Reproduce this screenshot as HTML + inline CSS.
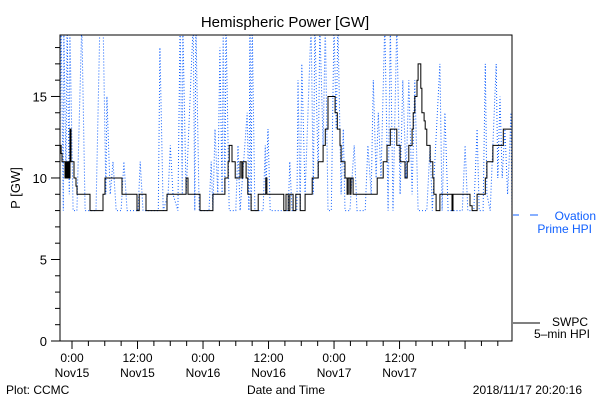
<!DOCTYPE html>
<html><head><meta charset="utf-8"><style>
body{margin:0;background:#fff;}
svg{display:block;font-family:"Liberation Sans",sans-serif;}
</style></head><body>
<svg id="chart" width="600" height="400">
<text x="285" y="27" font-size="15" text-anchor="middle">Hemispheric Power [GW]</text>
<text transform="translate(20,188) rotate(-90)" font-size="13" text-anchor="middle">P [GW]</text>
<text x="286" y="394" font-size="12" text-anchor="middle">Date and Time</text>
<text x="6" y="394" font-size="12">Plot: CCMC</text>
<text x="582" y="394" font-size="12" text-anchor="end">2018/11/17 20:20:16</text>
<g>
<line x1="513" y1="215" x2="519" y2="215" stroke="#1060ff" stroke-width="1"/>
<line x1="530" y1="215" x2="538" y2="215" stroke="#1060ff" stroke-width="1"/>
<text x="596" y="220" font-size="12" fill="#1060ff" text-anchor="end">Ovation</text>
<text x="592" y="233" font-size="12" fill="#1060ff" text-anchor="end">Prime HPI</text>
</g>
<g>
<line x1="513" y1="323" x2="540" y2="323" stroke="#000" stroke-width="1"/>
<text x="588" y="326" font-size="12" text-anchor="end">SWPC</text>
<text x="590" y="338" font-size="12" text-anchor="end">5–min HPI</text>
</g>
<g id="plot"></g>
</svg>
<script>
const xTickHours=[0,12,24,36,48,60];
const xTickTimes=["0:00","12:00","0:00","12:00","0:00","12:00"];
const xTickDates=["Nov15","Nov15","Nov16","Nov16","Nov17","Nov17"];
const yTicks=[0,5,10,15];
const swpcHours=[-2.2,-2.0,-1.83,-1.28,-1.1,-0.92,-0.73,-0.55,-0.37,-0.18,0.37,0.73,0.92,3.3,5.68,6.05,9.16,11.9,12.3,13.56,17.4,20.9,21.25,23.45,25.8,28.0,28.6,28.8,29.3,29.9,30.8,31.1,31.3,31.9,32.2,32.8,34.1,35.5,35.7,38.8,39.2,39.6,39.9,40.5,41.0,41.8,42.7,44.0,45.1,46.0,46.4,46.9,48.2,48.6,49.1,49.3,50.0,50.4,50.6,50.9,51.1,51.5,55.9,57.0,57.7,58.3,59.5,60.1,61.0,61.4,61.7,62.3,62.5,62.8,63.2,63.4,63.6,63.9,64.1,64.5,64.7,65.0,65.6,66.1,66.3,66.7,67.4,69.6,69.8,70.0,72.9,73.3,74.2,75.7,76.0,77.1,78.4,79.0,80.2,80.4,80.6];
const swpcValues=[12,11.5,11,10,11,10,11,10,13,11,10,9.5,9,8,9,10,9,8,9,8,9,10,9,8,9,10,11,12,11,10,11,10,11,10,9,8,9,10,9,8,9,8,9,8,9,8,9,10,11,12,13,15,14,13,12,11,10,9,10,9,10,9,10,11,12,13,12,11,10,11,12,13,14,15,16,17,17,15.5,14,13.5,13,12,11,10,9,8,9,8,9,9,8.3,8,9,10,11,12,12,13,13];
const ovHours=[-2.2,-2.0,-1.6,-1.5,-1.1,-0.9,-0.5,-0.4,0.2,0.9,1.8,2.4,4.4,5.1,5.7,6.2,6.4,7.0,7.5,8.1,9.0,9.5,10.1,12.1,12.5,13.0,15.8,16.1,16.7,17.6,18.0,18.5,19.4,19.8,20.2,20.3,20.9,22.2,22.5,22.7,23.3,25.1,25.5,25.8,26.2,26.7,27.1,27.5,27.7,28.0,28.2,28.8,30.0,30.4,30.8,32.1,32.4,32.6,32.8,33.0,33.5,35.0,35.4,35.5,35.9,36.3,39.6,39.9,40.3,41.2,41.4,41.8,42.1,42.7,43.8,44.2,44.5,45.1,45.4,46.0,46.4,46.9,47.5,48.0,48.4,48.7,49.3,49.7,50.0,50.9,51.7,52.2,53.7,54.2,54.8,55.2,55.7,56.1,56.6,57.3,57.9,58.3,58.8,59.5,60.1,60.6,61.2,61.7,62.3,62.8,63.4,65.0,65.6,66.0,67.4,67.8,68.3,68.9,71.5,72.0,72.5,73.6,74.2,74.6,75.3,75.7,76.0,76.6,77.7,78.0,78.4,78.8,79.3,79.8,80.2,80.4,80.6];
const ovValues=[12,19.5,8,19.5,10,19.5,9,19.5,8,8,19.5,8,8,19.5,19.5,9,15,9,11,8,8,11,8,8,11,8,8,18,8,9,12,9,8,19.5,9,19.5,9,19.5,8,19.5,8,8,11,8,13,9,18,9,19.5,9,19.5,8,8,12,8,14,8,19.5,8,19.5,8,8,12,9,13,8,8,11,8,8,16,8,17,9,19.5,9,19.5,10,19.5,12,19.5,8,8,19.5,13,19.5,9,13,8,8,12,8,8,12,9,16,10,14,10,19.5,8,19.5,8,19.5,9,16,10,16,9,16,8,8,12,8,17,8,14,8,8,12,8,8,13,8,8,17,9,8,17,10,15,10,13,9,12,14,8];

const L=60,R=512,T=35,B=341,H0=-2.2,H1=80.6,YMAX=18.77;
const xs=h=>L+(h-H0)/(H1-H0)*(R-L);
const ys=v=>B-v/YMAX*(B-T);
const NS="http://www.w3.org/2000/svg";
const g=document.getElementById('plot');
function mk(tag,attrs,parent){const e=document.createElementNS(NS,tag);for(const k in attrs)e.setAttribute(k,attrs[k]);(parent||g).appendChild(e);return e;}
const defs=mk('defs',{});
const cp=mk('clipPath',{id:'clip'},defs);mk('rect',{x:L,y:T,width:R-L,height:B-T},cp);

let d='';ovHours.forEach((h,i)=>{d+=(i?'L':'M')+xs(h).toFixed(1)+' '+ys(ovValues[i]).toFixed(1);});
const ov=mk('path',{d:d,fill:'none',stroke:'#1060ff','stroke-width':1,'stroke-dasharray':'1 2','clip-path':'url(#clip)'});



d='';swpcHours.forEach((h,i)=>{const x=xs(h).toFixed(1),y=ys(swpcValues[i]).toFixed(1);if(!i)d+='M'+x+' '+y;else d+='H'+x+'V'+y;});
const sw=mk('path',{d:d,fill:'none',stroke:'#000','stroke-width':1,'clip-path':'url(#clip)'});



const fr=mk('rect',{x:L,y:T,width:R-L,height:B-T,fill:'none',stroke:'#000','stroke-width':1});



for(let v=0;v<=18;v++){const y=ys(v);const major=yTicks.includes(v);
 const t=mk('line',{x1:major?51:55,x2:L,y1:y,y2:y,stroke:'#000'});
 
 }
yTicks.forEach(v=>{const t=mk('text',{x:47,y:ys(v)+5,'font-size':13,'text-anchor':'end'});t.textContent=v;
 
 });
for(let h=0;h<=H1;h+=3){const x=xs(h);const major=h%12===0;
 const t=mk('line',{x1:x,x2:x,y1:B,y2:major?349:346,stroke:'#000'});
 
 }
xTickHours.forEach((h,i)=>{const x=xs(h);
 const a=mk('text',{x:x,y:362,'font-size':12,'text-anchor':'middle'});a.textContent=xTickTimes[i];
 
 
 const b=mk('text',{x:x,y:377,'font-size':12,'text-anchor':'middle'});b.textContent=xTickDates[i];
 
 });
</script>
</body></html>
